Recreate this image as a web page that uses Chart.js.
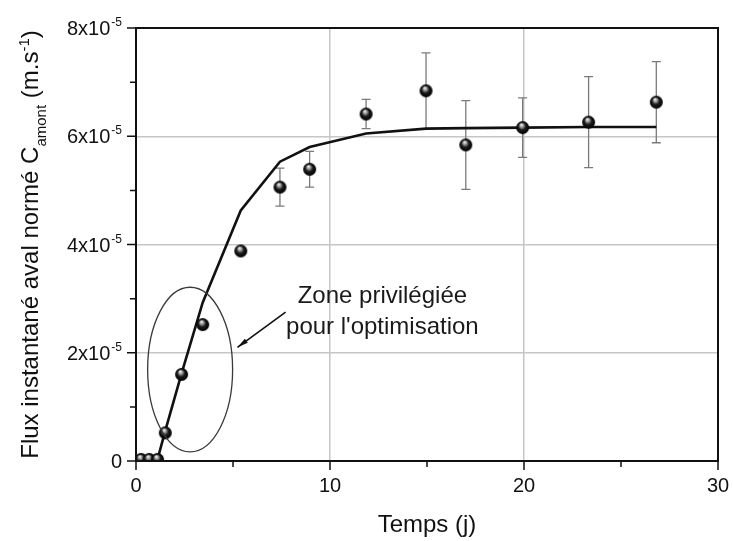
<!DOCTYPE html>
<html><head><meta charset="utf-8">
<script src="https://cdn.jsdelivr.net/npm/chart.js@4.4.0/dist/chart.umd.min.js"></script>
<style>html,body{margin:0;padding:0;background:#fff;}canvas{display:block;}</style>
</head><body>
<canvas id="c" width="733" height="541"></canvas>
<script>
// ---- data ----
const timeDays     = [0.26, 0.68, 1.11, 1.51, 2.35, 3.44, 5.40, 7.42, 8.95, 11.86, 14.95, 17.0, 19.93, 23.33, 26.82];
const fluxMeasured = [0.03e-5, 0.03e-5, 0.03e-5, 0.52e-5, 1.60e-5, 2.52e-5, 3.88e-5, 5.06e-5, 5.39e-5, 6.41e-5, 6.84e-5, 5.84e-5, 6.16e-5, 6.26e-5, 6.63e-5];
const fluxError    = [0, 0, 0, 0, 0, 0, 0, 0.35e-5, 0.33e-5, 0.27e-5, 0.70e-5, 0.82e-5, 0.55e-5, 0.84e-5, 0.75e-5];
const modelTime    = [0, 0.26, 0.68, 1.11, 1.51, 2.35, 3.44, 5.40, 7.42, 8.95, 11.86, 14.95, 17.0, 19.93, 23.33, 26.82];
const modelFlux    = [0, 0, 0, 0.03e-5, 0.56e-5, 1.62e-5, 2.93e-5, 4.63e-5, 5.53e-5, 5.80e-5, 6.05e-5, 6.14e-5, 6.15e-5, 6.16e-5, 6.17e-5, 6.17e-5];

const xTickValues    = [0, 10, 20, 30];
const xTickLabels    = ['0', '10', '20', '30'];
const xMinorValues   = [5, 15, 25];
const yTickValues    = [0, 2e-5, 4e-5, 6e-5, 8e-5];
const yTickMantissas = ['0', '2x10', '4x10', '6x10', '8x10'];
const yTickExponents = ['', '-5', '-5', '-5', '-5'];
const yMinorValues   = [1e-5, 3e-5, 5e-5, 7e-5];

const xTitleText = 'Temps (j)';
const yTitleParts = [
  {text: 'Flux instantané aval normé C', kind: 'main'},
  {text: 'amont', kind: 'sub'},
  {text: ' (m.s', kind: 'main'},
  {text: '-1', kind: 'sup'},
  {text: ')', kind: 'main'}
];
const noteLines = ['Zone privilégiée', "pour l'optimisation"];

// annotation geometry (data units)
const ellipseCenter = {x: 2.79, y: 1.69e-5};
const ellipseRadii  = {x: 2.19, y: 1.52e-5};
const arrowFrom = {x: 7.71, y: 2.75e-5};
const arrowTo   = {x: 5.23, y: 2.10e-5};
const noteAnchor = {x: 12.7, y: 3.04e-5};

const FONT = '"Liberation Sans", Arial, sans-serif';

// ---- sphere marker ----
function makeSphere(r) {
  const c = document.createElement('canvas');
  const s = Math.ceil(r * 2 + 2);
  c.width = s; c.height = s;
  const g = c.getContext('2d');
  const cx = s / 2, cy = s / 2;
  const grad = g.createRadialGradient(cx - r * 0.2, cy - r * 0.45, r * 0.05, cx, cy, r);
  grad.addColorStop(0, '#f4f4f4');
  grad.addColorStop(0.25, '#9a9a9a');
  grad.addColorStop(0.55, '#1a1a1a');
  grad.addColorStop(1, '#000');
  g.fillStyle = grad;
  g.beginPath(); g.arc(cx, cy, r, 0, Math.PI * 2); g.fill();
  return c;
}
const sphere = makeSphere(6.5);

const measuredPoints = timeDays.map((t, i) => ({x: t, y: fluxMeasured[i]}));
const modelPoints = modelTime.map((t, i) => ({x: t, y: modelFlux[i]}));

const decorPlugin = {
  id: 'decor',
  beforeDatasetsDraw(chart) {
    const {ctx} = chart;
    const xs = chart.scales.x, ys = chart.scales.y;
    ctx.save();
    ctx.strokeStyle = '#7a7a7a';
    ctx.lineWidth = 1.3;
    timeDays.forEach((t, i) => {
      const e = fluxError[i];
      if (!e) return;
      const px = xs.getPixelForValue(t);
      const y1 = ys.getPixelForValue(fluxMeasured[i] + e);
      const y2 = ys.getPixelForValue(fluxMeasured[i] - e);
      ctx.beginPath();
      ctx.moveTo(px, y1); ctx.lineTo(px, y2);
      ctx.moveTo(px - 4.5, y1); ctx.lineTo(px + 4.5, y1);
      ctx.moveTo(px - 4.5, y2); ctx.lineTo(px + 4.5, y2);
      ctx.stroke();
    });
    ctx.restore();
  },
  afterDraw(chart) {
    const {ctx, chartArea: a} = chart;
    const xs = chart.scales.x, ys = chart.scales.y;
    ctx.save();
    // ellipse
    const ecx = xs.getPixelForValue(ellipseCenter.x), ecy = ys.getPixelForValue(ellipseCenter.y);
    const erx = xs.getPixelForValue(ellipseCenter.x + ellipseRadii.x) - ecx;
    const ery = ecy - ys.getPixelForValue(ellipseCenter.y + ellipseRadii.y);
    ctx.strokeStyle = '#3a3a3a';
    ctx.lineWidth = 1.3;
    ctx.beginPath(); ctx.ellipse(ecx, ecy, erx, ery, 0, 0, Math.PI * 2); ctx.stroke();
    // arrow
    const ax1 = xs.getPixelForValue(arrowFrom.x), ay1 = ys.getPixelForValue(arrowFrom.y);
    const ax2 = xs.getPixelForValue(arrowTo.x), ay2 = ys.getPixelForValue(arrowTo.y);
    ctx.strokeStyle = '#111'; ctx.fillStyle = '#111';
    ctx.lineWidth = 1.6;
    ctx.beginPath(); ctx.moveTo(ax1, ay1); ctx.lineTo(ax2, ay2); ctx.stroke();
    const ang = Math.atan2(ay2 - ay1, ax2 - ax1);
    ctx.beginPath();
    ctx.moveTo(ax2, ay2);
    ctx.lineTo(ax2 - 11 * Math.cos(ang) + 2.5 * Math.sin(ang), ay2 - 11 * Math.sin(ang) - 2.5 * Math.cos(ang));
    ctx.lineTo(ax2 - 11 * Math.cos(ang) - 2.5 * Math.sin(ang), ay2 - 11 * Math.sin(ang) + 2.5 * Math.cos(ang));
    ctx.closePath(); ctx.fill();
    // note text
    ctx.fillStyle = '#1a1a1a';
    ctx.font = '24px ' + FONT;
    ctx.textAlign = 'center';
    ctx.textBaseline = 'middle';
    const nx = xs.getPixelForValue(noteAnchor.x), ny = ys.getPixelForValue(noteAnchor.y);
    noteLines.forEach((l, i) => ctx.fillText(l, nx, ny + i * 31));

    // grid ticks (outward)
    ctx.strokeStyle = '#111';
    ctx.lineWidth = 1.5;
    ctx.beginPath();
    xTickValues.forEach(v => { const p = xs.getPixelForValue(v); ctx.moveTo(p, a.bottom); ctx.lineTo(p, a.bottom + 9); });
    xMinorValues.forEach(v => { const p = xs.getPixelForValue(v); ctx.moveTo(p, a.bottom); ctx.lineTo(p, a.bottom + 6); });
    yTickValues.forEach(v => { const p = ys.getPixelForValue(v); ctx.moveTo(a.left, p); ctx.lineTo(a.left - 9, p); });
    yMinorValues.forEach(v => { const p = ys.getPixelForValue(v); ctx.moveTo(a.left, p); ctx.lineTo(a.left - 6, p); });
    ctx.stroke();
    // frame
    ctx.lineWidth = 2;
    ctx.strokeRect(a.left, a.top, a.right - a.left, a.bottom - a.top);

    // x tick labels
    ctx.fillStyle = '#111';
    ctx.font = '20px ' + FONT;
    ctx.textAlign = 'center';
    ctx.textBaseline = 'alphabetic';
    xTickValues.forEach((v, i) => ctx.fillText(xTickLabels[i], xs.getPixelForValue(v), a.bottom + 31));
    // y tick labels with superscript
    const rightEdge = a.left - 14;
    yTickValues.forEach((v, i) => {
      const p = ys.getPixelForValue(v);
      ctx.font = '12px ' + FONT;
      const we = yTickExponents[i] ? ctx.measureText(yTickExponents[i]).width : 0;
      ctx.font = '20px ' + FONT;
      const wm = ctx.measureText(yTickMantissas[i]).width;
      ctx.textAlign = 'left';
      ctx.fillText(yTickMantissas[i], rightEdge - we - wm - (we ? 1 : 0), p + 7);
      if (we) {
        ctx.font = '12px ' + FONT;
        ctx.fillText(yTickExponents[i], rightEdge - we, p - 2);
      }
    });
    // x title
    ctx.font = '24px ' + FONT;
    ctx.textAlign = 'center';
    ctx.fillText(xTitleText, (a.left + a.right) / 2, 532);
    // y title (rotated, with sub/superscript)
    const sizes = {main: 24, sub: 15, sup: 15};
    const dys = {main: 0, sub: 8, sup: -9};
    let total = 0;
    yTitleParts.forEach(pt => { ctx.font = sizes[pt.kind] + 'px ' + FONT; pt.w = ctx.measureText(pt.text).width; total += pt.w; });
    ctx.translate(38, (a.top + a.bottom) / 2);
    ctx.rotate(-Math.PI / 2);
    ctx.textAlign = 'left';
    let cx = -total / 2;
    yTitleParts.forEach(pt => {
      ctx.font = sizes[pt.kind] + 'px ' + FONT;
      ctx.fillText(pt.text, cx, dys[pt.kind]);
      cx += pt.w;
    });
    ctx.restore();
  }
};

new Chart(document.getElementById('c'), {
  type: 'scatter',
  data: {
    datasets: [
      {
        label: 'Mesures',
        data: measuredPoints,
        pointStyle: sphere,
        pointRadius: 6.5,
        showLine: false
      },
      {
        label: 'Modèle',
        data: modelPoints,
        showLine: true,
        borderColor: '#111',
        borderWidth: 2.6,
        pointRadius: 0,
        tension: 0,
        fill: false
      }
    ]
  },
  options: {
    responsive: false,
    animation: false,
    devicePixelRatio: 1,
    layout: {padding: {left: 0, right: 15, top: 28, bottom: 80}},
    plugins: {legend: {display: false}, tooltip: {enabled: false}},
    scales: {
      x: {
        type: 'linear', min: 0, max: 30,
        ticks: {stepSize: 10, display: false},
        grid: {
          color: c => (c.tick && c.tick.value > 0 && c.tick.value < 30) ? '#c6c6c6' : 'rgba(0,0,0,0)',
          lineWidth: 1.5, drawTicks: false
        },
        border: {display: false},
        afterFit: s => { s.height = 0; }
      },
      y: {
        type: 'linear', min: 0, max: 8e-5,
        ticks: {stepSize: 2e-5, display: false},
        grid: {
          color: c => (c.tick && c.tick.value > 1e-7 && c.tick.value < 7.9e-5) ? '#c6c6c6' : 'rgba(0,0,0,0)',
          lineWidth: 1.5, drawTicks: false
        },
        border: {display: false},
        afterFit: s => { s.width = 136; }
      }
    }
  },
  plugins: [decorPlugin]
});
</script>
</body></html>
